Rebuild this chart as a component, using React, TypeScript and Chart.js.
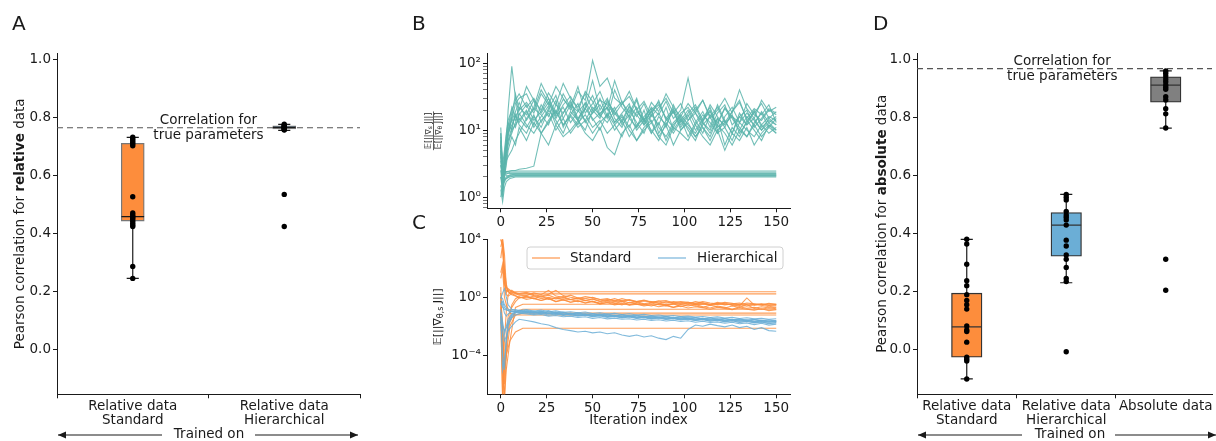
import React, { useEffect, useRef } from 'react';
import { Chart, registerables } from 'chart.js';

Chart.register(...registerables);

const W = 1216;
const H = 441;
const FONT = "'DejaVu Sans', sans-serif";
const INK = '#1a1a1a';
const ORANGE = '#fd8d3c';
const BLUE = '#6baed6';
const GREY = '#808080';
const TEAL = 'rgba(90,180,172,0.85)';
const ORANGE_LINE = 'rgba(253,141,60,0.85)';
const BLUE_LINE = 'rgba(107,174,214,0.85)';
const LABEL_FONT = '13.5px ' + FONT;

// ---------------- Panel A (relative data) ----------------
const A_CATEGORIES = [['Relative data', 'Standard'], ['Relative data', 'Hierarchical']];
const A_Q1 = [0.444, 0.762];
const A_MEDIAN = [0.459, 0.767];
const A_Q3 = [0.712, 0.773];
const A_WHISKER_LOW = [0.246, 0.757];
const A_WHISKER_HIGH = [0.733, 0.778];
const A_POINTS_STANDARD = [0.733, 0.728, 0.722, 0.716, 0.71, 0.704, 0.528, 0.472, 0.466, 0.46, 0.455, 0.45, 0.443, 0.436, 0.43, 0.425, 0.287, 0.246];
const A_POINTS_HIERARCHICAL = [0.778, 0.775, 0.772, 0.77, 0.768, 0.766, 0.764, 0.762, 0.76, 0.758, 0.536, 0.425];
const A_TRUE_CORRELATION = 0.766;

// ---------------- Panel D (absolute data) ----------------
const D_CATEGORIES = [['Relative data', 'Standard'], ['Relative data', 'Hierarchical'], ['Absolute data']];
const D_Q1 = [-0.026, 0.323, 0.854];
const D_MEDIAN = [0.079, 0.43, 0.913];
const D_Q3 = [0.195, 0.473, 0.942];
const D_WHISKER_LOW = [-0.101, 0.231, 0.765];
const D_WHISKER_HIGH = [0.381, 0.536, 0.962];
const D_POINTS_STANDARD = [0.381, 0.365, 0.295, 0.238, 0.221, 0.19, 0.17, 0.155, 0.14, 0.082, 0.068, 0.063, 0.026, -0.026, -0.033, -0.039, -0.101];
const D_POINTS_HIERARCHICAL = [0.536, 0.526, 0.517, 0.477, 0.465, 0.457, 0.448, 0.43, 0.378, 0.358, 0.327, 0.312, 0.284, 0.246, 0.235, -0.007];
const D_POINTS_ABSOLUTE = [0.962, 0.954, 0.945, 0.934, 0.925, 0.914, 0.906, 0.899, 0.873, 0.862, 0.832, 0.814, 0.765, 0.312, 0.205];
const D_TRUE_CORRELATION = 0.97;

const BOX_Y_TICKS = [0, 0.2, 0.4, 0.6, 0.8, 1.0];

// ---------------- Panels B and C (iterations) ----------------
const ITER = [0, 1, 2, 3, 4, 6, 8, 10,
  14, 18, 22, 26, 30, 34, 38, 42, 46, 50, 54, 58,
  62, 66, 70, 74, 78, 82, 86, 90, 94, 98,
  102, 106, 110, 114, 118, 122, 126, 130, 134, 138,
  142, 146, 150];
const ITER_FLAT = [0, 1, 2, 3, 5, 8, 12, 150];
const X_TICKS = [0, 25, 50, 75, 100, 125, 150];

// B: ratio of gradient norms
const B_RUN_01 = [11, 2.5, 4, 7, 10, 18, 14, 22,
  17, 28, 13, 21, 33, 15, 24, 19, 38, 27, 16, 22,
  13, 18, 25, 11, 16, 21, 9, 14, 19, 12,
  17, 10, 15, 22, 11, 14, 9, 18, 12, 15,
  10, 13, 16];
const B_RUN_02 = [7, 1.5, 2.5, 6, 20, 90, 30, 14,
  20, 12, 24, 16, 28, 11, 19, 14, 22, 55, 20, 30,
  15, 11, 20, 13, 9, 17, 12, 22, 10, 15,
  8, 13, 19, 11, 24, 14, 9, 16, 12, 20,
  11, 14, 12];
const B_RUN_03 = [3, 2.2, 2.3, 2.4, 2.4, 2.5, 2.5, 2.6,
  2.7, 2.9, 9, 14, 20, 12, 17, 25, 13, 18, 30, 16,
  22, 12, 17, 10, 14, 19, 11, 8, 13, 17,
  12, 9, 14, 20, 10, 13, 16, 11, 8, 13,
  18, 11, 15];
const B_RUN_04 = [5, 2, 3, 3.5, 4, 5, 7, 9,
  15, 22, 50, 30, 18, 35, 22, 14, 26, 18, 24, 15,
  40, 22, 16, 28, 13, 19, 24, 15, 11, 18,
  22, 14, 9, 17, 13, 21, 15, 10, 16, 12,
  19, 13, 10];
const B_RUN_05 = [2, 1.2, 4, 6, 9, 12, 16, 20,
  26, 18, 35, 24, 45, 30, 20, 38, 28, 110, 45, 60,
  30, 24, 38, 20, 27, 16, 22, 30, 18, 25,
  14, 20, 28, 16, 22, 13, 19, 26, 15, 21,
  17, 24, 13];
const B_RUN_06 = [4, 1.8, 2.5, 4, 7, 11, 17, 12,
  9, 16, 11, 20, 14, 9, 17, 12, 21, 15, 10, 18,
  12, 8, 15, 11, 20, 9, 13, 7, 12, 16,
  10, 7, 13, 9, 15, 6, 11, 8, 14, 10,
  7, 12, 9];
const B_RUN_07 = [6, 1, 2, 3, 5, 8, 6, 11,
  7, 13, 9, 6, 12, 8, 10, 14, 9, 7, 11, 5.5,
  4.3, 9, 12, 7, 10, 13, 8, 6, 11, 9,
  7, 12, 8, 6, 10, 5, 9, 7, 11, 6,
  9, 12, 10];
const B_RUN_08 = [9, 2, 3, 6, 10, 14, 25, 30,
  35, 20, 40, 26, 17, 29, 22, 45, 18, 25, 38, 20,
  55, 26, 18, 30, 14, 22, 17, 27, 15, 20,
  60, 18, 13, 24, 16, 11, 19, 28, 14, 18,
  25, 15, 19];
const B_RUN_09 = [3, 1.6, 3, 5, 9, 15, 11, 17,
  24, 14, 19, 30, 16, 22, 13, 19, 25, 14, 18, 22,
  13, 17, 11, 19, 14, 9, 16, 12, 20, 10,
  14, 18, 11, 8, 15, 12, 17, 9, 13, 19,
  12, 16, 14];
const B_RUN_10 = [8, 2.2, 4, 8, 13, 10, 19, 26,
  14, 21, 17, 12, 24, 18, 28, 15, 21, 33, 17, 13,
  20, 27, 15, 22, 12, 17, 28, 14, 19, 11,
  16, 22, 13, 10, 18, 24, 12, 16, 20, 11,
  15, 21, 18];
const B_RUN_11 = [5, 1.4, 3.5, 6, 11, 22, 16, 13,
  19, 11, 16, 23, 12, 18, 26, 14, 10, 20, 15, 28,
  18, 13, 22, 16, 25, 13, 18, 11, 24, 14,
  20, 12, 17, 13, 9, 16, 22, 13, 18, 14,
  10, 15, 12];
const B_RUN_12 = [2.5, 1.2, 2.6, 4.5, 7, 9, 13, 18,
  12, 9, 14, 18, 10, 15, 9, 13, 17, 11, 14, 9,
  12, 16, 10, 7, 11, 14, 8, 12, 6, 10,
  13, 8, 11, 7, 12, 9, 6, 10, 8, 12,
  8, 11, 9];
const B_RUN_13 = [9, 3, 5, 9, 14, 20, 28, 35,
  22, 30, 18, 26, 15, 24, 32, 20, 14, 22, 17, 26,
  19, 14, 23, 17, 12, 20, 26, 15, 21, 13,
  18, 24, 14, 19, 12, 22, 16, 13, 25, 17,
  14, 20, 17];
const B_RUN_14 = [1.5, 1.1, 2, 3.5, 6, 10, 12, 15,
  11, 17, 9, 13, 19, 12, 16, 11, 14, 9, 13, 17,
  10, 14, 8, 12, 15, 10, 7, 13, 9, 14,
  11, 8, 12, 16, 9, 11, 7, 13, 10, 8,
  12, 9, 11];
const B_RUN_15 = [6, 2, 3, 5, 8, 16, 35, 20,
  45, 28, 20, 36, 24, 50, 30, 22, 35, 20, 28, 24,
  17, 25, 32, 20, 14, 26, 19, 35, 22, 16,
  25, 18, 28, 15, 20, 30, 18, 40, 21, 15,
  28, 19, 22];
const B_FLAT_01 = [4.5, 2.6, 2.2, 2.1, 2.05, 2.05, 2.05, 2.05];
const B_FLAT_02 = [1.0, 1.5, 1.7, 1.9, 2.0, 2.1, 2.1, 2.1];
const B_FLAT_03 = [2.5, 2.4, 2.4, 2.4, 2.45, 2.45, 2.45, 2.45];
const B_FLAT_04 = [6.5, 3, 2.4, 2.3, 2.25, 2.25, 2.25, 2.25];
const B_FLAT_05 = [1.3, 0.85, 1.4, 1.7, 1.9, 2.0, 2.0, 2.0];
const B_FLAT_06 = [3.5, 2, 1.8, 1.9, 2.1, 2.15, 2.15, 2.15];
const B_FLAT_07 = [2.0, 1.6, 1.8, 2.0, 2.15, 2.2, 2.2, 2.2];
const B_FLAT_08 = [7, 2.8, 2.3, 2.2, 2.35, 2.35, 2.35, 2.35];
const B_RUNS = [B_RUN_01, B_RUN_02, B_RUN_03, B_RUN_04, B_RUN_05, B_RUN_06, B_RUN_07, B_RUN_08, B_RUN_09, B_RUN_10, B_RUN_11, B_RUN_12, B_RUN_13, B_RUN_14, B_RUN_15];
const B_FLATS = [B_FLAT_01, B_FLAT_02, B_FLAT_03, B_FLAT_04, B_FLAT_05, B_FLAT_06, B_FLAT_07, B_FLAT_08];
const B_Y_MAJOR = [1, 10, 100];
const B_Y_LABELS = ['10⁰', '10¹', '10²'];
const B_Y_MINOR = [0.7, 0.8, 0.9, 2, 3, 4, 5, 6, 7, 8, 9, 20, 30, 40, 50, 60, 70, 80, 90];

// C: gradient norm, Standard (orange) and Hierarchical (blue)
const C_STD_RUN_01 = [1e4, 3e3, 50, 5, 3, 2.5, 2, 1.6,
  1.8, 1.3, 1.0, 1.4, 0.9, 1.1, 0.7, 0.9, 0.6, 0.75, 0.5, 0.6,
  0.5, 0.6, 0.4, 0.5, 0.35, 0.45, 0.4, 0.3, 0.38, 0.33,
  0.42, 0.3, 0.35, 0.28, 0.32, 0.4, 0.27, 0.3, 0.24, 0.33,
  0.28, 0.22, 0.26];
const C_STD_RUN_02 = [0.05, 1e-7, 1e-3, 0.1, 1.5, 3, 2, 1.8,
  2.2, 1.5, 1.2, 1.6, 3, 1.3, 1.0, 0.8, 1.1, 0.9, 0.7, 0.6,
  0.8, 0.55, 0.7, 0.5, 0.6, 0.45, 0.55, 0.4, 0.5, 0.45,
  0.35, 0.5, 0.4, 0.3, 0.45, 0.35, 0.3, 0.25, 0.9, 0.3,
  0.35, 0.28, 0.3];
const C_STD_RUN_03 = [3e4, 1e4, 1e2, 8, 2.5, 1.5, 1.2, 0.9,
  1.1, 0.8, 1.2, 0.7, 0.9, 0.65, 0.7, 0.5, 0.6, 0.5, 0.4, 0.55,
  0.4, 0.3, 0.45, 0.35, 0.28, 0.4, 0.3, 0.25, 0.35, 0.22,
  0.3, 0.25, 0.2, 0.28, 0.22, 0.18, 0.25, 0.2, 0.3, 0.17,
  0.22, 0.18, 0.2];
const C_STD_RUN_04 = [2, 1e-5, 1e-7, 1e-4, 0.01, 0.3, 0.8, 1.1,
  0.7, 0.9, 0.6, 0.8, 0.5, 0.7, 0.45, 0.6, 0.4, 0.55, 0.35, 0.45,
  0.38, 0.5, 0.3, 0.42, 0.32, 0.25, 0.35, 0.28, 0.2, 0.3,
  0.25, 0.32, 0.22, 0.18, 0.25, 0.2, 0.15, 0.22, 0.17, 0.2,
  0.15, 0.19, 0.16];
const C_STD_RUN_05 = [500, 5e3, 20, 2, 4, 2.5, 1.8, 1.4,
  1.3, 2.0, 1.5, 3.0, 1.2, 1.0, 1.4, 0.9, 0.8, 1.0, 0.7, 0.8,
  0.55, 0.8, 0.6, 0.5, 0.65, 0.45, 0.55, 0.6, 0.4, 0.5,
  0.45, 0.38, 0.5, 0.4, 0.35, 0.45, 0.38, 0.3, 0.4, 0.35,
  0.3, 0.38, 0.33];
const C_STD_RUN_06 = [0.2, 0.01, 1e-5, 1e-3, 0.05, 0.2, 0.5, 0.9,
  1.2, 0.8, 0.6, 0.9, 0.5, 0.65, 0.45, 0.55, 0.4, 0.5, 0.35, 0.42,
  0.3, 0.38, 0.28, 0.33, 0.25, 0.3, 0.22, 0.27, 0.2, 0.25,
  0.18, 0.22, 0.19, 0.15, 0.2, 0.17, 0.14, 0.18, 0.15, 0.13,
  0.16, 0.12, 0.14];
const C_STD_RUN_07 = [50, 200, 8, 1.5, 1.2, 1.8, 1.3, 1.0,
  0.9, 1.2, 0.8, 1.0, 0.75, 0.9, 0.7, 0.8, 0.6, 0.75, 0.55, 0.7,
  0.6, 0.5, 0.65, 0.45, 0.55, 0.5, 0.4, 0.5, 0.42, 0.38,
  0.45, 0.35, 0.4, 0.33, 0.38, 0.3, 0.35, 0.4, 0.3, 0.28,
  0.33, 0.27, 0.3];
const C_STD_FLAT_01 = [1e4, 5e3, 10, 3, 2, 2.4, 2.4, 2.4];
const C_STD_FLAT_02 = [3e3, 1e4, 1e3, 5, 1.8, 1.7, 1.7, 1.7];
const C_STD_FLAT_03 = [0.5, 1e-4, 1e-7, 1e-5, 1e-3, 0.2, 0.33, 0.33];
const C_STD_FLAT_04 = [0.1, 1e-7, 1e-5, 1e-4, 0.01, 0.06, 0.08, 0.08];
const C_STD_FLAT_05 = [1, 0.01, 1e-5, 1e-4, 1e-3, 0.004, 0.0073, 0.0073];
const C_STD_FLAT_06 = [5, 1e-3, 1e-6, 1e-3, 0.02, 0.1, 0.15, 0.15];
const C_STD_FLAT_07 = [20, 1e2, 1, 0.3, 0.08, 0.06, 0.06, 0.06];

const C_HIER_RUN_01 = [0.3, 0.5, 0.2, 0.15, 0.12, 0.1, 0.09, 0.1,
  0.08, 0.09, 0.07, 0.08, 0.065, 0.07, 0.06, 0.055, 0.06, 0.05, 0.055, 0.045,
  0.05, 0.04, 0.045, 0.038, 0.042, 0.035, 0.04, 0.033, 0.036, 0.03,
  0.034, 0.028, 0.031, 0.026, 0.029, 0.024, 0.027, 0.022, 0.025, 0.02,
  0.023, 0.019, 0.021];
const C_HIER_RUN_02 = [0.05, 1e-4, 1e-5, 1e-3, 0.01, 0.05, 0.08, 0.12,
  0.1, 0.08, 0.11, 0.07, 0.09, 0.06, 0.075, 0.055, 0.065, 0.05, 0.06, 0.045,
  0.055, 0.04, 0.05, 0.037, 0.045, 0.033, 0.04, 0.03, 0.036, 0.028,
  0.032, 0.025, 0.03, 0.022, 0.027, 0.02, 0.024, 0.018, 0.022, 0.017,
  0.02, 0.015, 0.018];
const C_HIER_RUN_03 = [0.8, 2, 4, 1, 0.3, 0.15, 0.12, 0.1,
  0.13, 0.09, 0.1, 0.12, 0.08, 0.095, 0.07, 0.085, 0.065, 0.075, 0.06, 0.07,
  0.055, 0.065, 0.05, 0.06, 0.045, 0.052, 0.042, 0.048, 0.038, 0.045,
  0.036, 0.04, 0.033, 0.038, 0.03, 0.034, 0.028, 0.032, 0.026, 0.03,
  0.025, 0.028, 0.024];
const C_HIER_RUN_04 = [0.1, 0.02, 0.003, 0.01, 0.03, 0.07, 0.09, 0.08,
  0.07, 0.06, 0.065, 0.05, 0.055, 0.045, 0.05, 0.04, 0.045, 0.035, 0.04, 0.032,
  0.036, 0.03, 0.033, 0.027, 0.03, 0.025, 0.028, 0.023, 0.026, 0.021,
  0.024, 0.019, 0.022, 0.018, 0.02, 0.016, 0.019, 0.015, 0.017, 0.013,
  0.016, 0.012, 0.014];
const C_HIER_RUN_05 = [0.02, 0.005, 1e-3, 0.002, 0.005, 0.01, 0.02, 0.03,
  0.025, 0.02, 0.015, 0.012, 0.008, 0.006, 0.005, 0.004, 0.0045, 0.0035, 0.004, 0.003,
  0.0035, 0.0025, 0.002, 0.0025, 0.0018, 0.0022, 0.0015, 0.0012, 0.002, 0.0015,
  0.006, 0.012, 0.01, 0.014, 0.011, 0.009, 0.012, 0.008, 0.01, 0.006,
  0.008, 0.005, 0.0045];
const C_HIER_RUN_06 = [0.6, 0.3, 0.08, 0.05, 0.07, 0.11, 0.1, 0.13,
  0.09, 0.11, 0.08, 0.1, 0.075, 0.085, 0.07, 0.08, 0.06, 0.07, 0.055, 0.065,
  0.05, 0.06, 0.045, 0.055, 0.042, 0.05, 0.04, 0.046, 0.036, 0.043,
  0.034, 0.04, 0.031, 0.037, 0.029, 0.034, 0.027, 0.031, 0.025, 0.029,
  0.023, 0.027, 0.022];
const C_HIER_RUN_07 = [0.15, 1e-5, 5e-5, 1e-3, 0.02, 0.06, 0.1, 0.09,
  0.11, 0.085, 0.1, 0.08, 0.09, 0.07, 0.08, 0.065, 0.075, 0.06, 0.068, 0.052,
  0.06, 0.048, 0.055, 0.044, 0.05, 0.04, 0.045, 0.037, 0.042, 0.034,
  0.038, 0.031, 0.035, 0.029, 0.033, 0.027, 0.03, 0.025, 0.028, 0.023,
  0.026, 0.021, 0.024];
const C_HIER_RUN_08 = [0.4, 0.2, 0.15, 0.13, 0.12, 0.1, 0.11, 0.09,
  0.1, 0.08, 0.09, 0.075, 0.08, 0.065, 0.07, 0.06, 0.065, 0.055, 0.06, 0.05,
  0.055, 0.045, 0.05, 0.042, 0.046, 0.038, 0.042, 0.035, 0.038, 0.032,
  0.035, 0.03, 0.032, 0.027, 0.03, 0.025, 0.028, 0.023, 0.026, 0.021,
  0.024, 0.02, 0.022];
const C_HIER_RUN_09 = [0.08, 0.01, 0.005, 0.008, 0.015, 0.04, 0.06, 0.07,
  0.09, 0.065, 0.08, 0.06, 0.07, 0.055, 0.065, 0.05, 0.058, 0.045, 0.052, 0.04,
  0.047, 0.037, 0.043, 0.034, 0.039, 0.031, 0.036, 0.029, 0.033, 0.027,
  0.03, 0.025, 0.028, 0.023, 0.026, 0.021, 0.024, 0.019, 0.022, 0.018,
  0.02, 0.016, 0.017];
const C_HIER_RUN_10 = [1, 0.8, 0.3, 0.2, 0.15, 0.13, 0.14, 0.12,
  0.14, 0.11, 0.13, 0.1, 0.115, 0.09, 0.1, 0.085, 0.095, 0.075, 0.085, 0.07,
  0.078, 0.065, 0.072, 0.06, 0.066, 0.055, 0.06, 0.05, 0.055, 0.046,
  0.05, 0.043, 0.047, 0.04, 0.044, 0.037, 0.041, 0.034, 0.038, 0.032,
  0.035, 0.03, 0.033];
const C_STD_RUNS = [C_STD_RUN_01, C_STD_RUN_02, C_STD_RUN_03, C_STD_RUN_04, C_STD_RUN_05, C_STD_RUN_06, C_STD_RUN_07];
const C_STD_FLATS = [C_STD_FLAT_01, C_STD_FLAT_02, C_STD_FLAT_03, C_STD_FLAT_04, C_STD_FLAT_05, C_STD_FLAT_06, C_STD_FLAT_07];
const C_HIER_RUNS = [C_HIER_RUN_01, C_HIER_RUN_02, C_HIER_RUN_03, C_HIER_RUN_04, C_HIER_RUN_05, C_HIER_RUN_06, C_HIER_RUN_07, C_HIER_RUN_08, C_HIER_RUN_09, C_HIER_RUN_10];
const C_Y_MAJOR = [1e-4, 1, 1e4];
const C_Y_LABELS = ['10⁻⁴', '10⁰', '10⁴'];
const LEGEND_LABELS = ['Standard', 'Hierarchical'];

// ---------------- helpers ----------------
type Seg = { text: string; font: string; dy?: number };

function segWidth(ctx: CanvasRenderingContext2D, segs: Seg[]) {
  let w = 0;
  for (const s of segs) { ctx.font = s.font; w += ctx.measureText(s.text).width; }
  return w;
}

function drawRich(ctx: CanvasRenderingContext2D, segs: Seg[], cx: number, cy: number, rotate: boolean, offV = 0) {
  ctx.save();
  ctx.translate(cx, cy);
  if (rotate) ctx.rotate(-Math.PI / 2);
  const w = segWidth(ctx, segs);
  let x = -w / 2;
  ctx.textBaseline = 'middle';
  ctx.textAlign = 'left';
  ctx.fillStyle = INK;
  for (const s of segs) {
    ctx.font = s.font;
    ctx.fillText(s.text, x, offV + (s.dy || 0));
    x += ctx.measureText(s.text).width;
  }
  ctx.restore();
  return w;
}

function text(ctx: CanvasRenderingContext2D, t: string, x: number, y: number, font: string, align: CanvasTextAlign = 'center', baseline: CanvasTextBaseline = 'middle') {
  ctx.save();
  ctx.font = font;
  ctx.fillStyle = INK;
  ctx.textAlign = align;
  ctx.textBaseline = baseline;
  ctx.fillText(t, x, y);
  ctx.restore();
}

function arrow(ctx: CanvasRenderingContext2D, from: number, to: number, y: number) {
  ctx.save();
  ctx.strokeStyle = INK;
  ctx.fillStyle = INK;
  ctx.lineWidth = 1.2;
  ctx.beginPath(); ctx.moveTo(from, y); ctx.lineTo(to, y); ctx.stroke();
  const d = Math.sign(to - from);
  ctx.beginPath();
  ctx.moveTo(to, y);
  ctx.lineTo(to - d * 8, y - 3.5);
  ctx.lineTo(to - d * 8, y + 3.5);
  ctx.closePath();
  ctx.fill();
  ctx.restore();
}

const axisGrid = { display: true, drawOnChartArea: false, drawTicks: true, tickLength: 4, color: INK, lineWidth: 1 };
const axisBorder = { display: true, color: INK, width: 1 };

type BoxParams = {
  categories: string[][]; q1: number[]; med: number[]; q3: number[]; lo: number[]; hi: number[];
  points: number[][]; colors: string[]; edge: string; medianColor: string;
  halfBox: number; capHalf: number; barPx: number; xMax: number; trueCorr: number; textX: number;
  padLeft: number; padRight: number; yWidth: number;
  letter: string; letterX: number; titleX: number; boldWord: string;
  arrows: number[]; trainedX: number;
};

function boxConfig(p: BoxParams): any {
  const datasets: any[] = [];
  p.points.forEach((vals, i) => {
    datasets.push({
      type: 'scatter', data: vals.map((v) => ({ x: i, y: v })), pointRadius: 2.7,
      pointBackgroundColor: '#000', pointBorderWidth: 0, showLine: false, order: 0,
    });
  });
  const med: any[] = [];
  p.med.forEach((m, i) => { med.push({ x: i - p.halfBox, y: m }, { x: i + p.halfBox, y: m }, { x: i, y: null }); });
  datasets.push({ type: 'line', data: med, borderColor: p.medianColor, borderWidth: 1.3, pointRadius: 0, spanGaps: false, showLine: true, order: 1 });
  datasets.push({
    type: 'bar', data: p.q1.map((v, i) => ({ x: i, y: [v, p.q3[i]] })), backgroundColor: p.colors,
    borderColor: p.edge, borderWidth: 1.3, borderSkipped: false, barThickness: p.barPx, grouped: false, order: 2,
  });
  const wh: any[] = [];
  p.q1.forEach((_, i) => {
    const c = p.capHalf;
    wh.push(
      { x: i, y: p.q3[i] }, { x: i, y: p.hi[i] }, { x: i, y: null },
      { x: i, y: p.lo[i] }, { x: i, y: p.q1[i] }, { x: i, y: null },
      { x: i - c, y: p.hi[i] }, { x: i + c, y: p.hi[i] }, { x: i, y: null },
      { x: i - c, y: p.lo[i] }, { x: i + c, y: p.lo[i] }, { x: i, y: null },
    );
  });
  datasets.push({ type: 'line', data: wh, borderColor: INK, borderWidth: 1.2, pointRadius: 0, spanGaps: false, showLine: true, order: 3 });
  datasets.push({
    type: 'line', data: [{ x: -0.5, y: p.trueCorr }, { x: p.xMax, y: p.trueCorr }], borderColor: '#555',
    borderDash: [6, 4], borderWidth: 1.1, pointRadius: 0, showLine: true, order: 4,
  });

  const overlay = {
    id: 'overlay' + p.letter,
    afterDraw(chart: any) {
      const ctx = chart.ctx as CanvasRenderingContext2D;
      const xs = chart.scales.x; const ys = chart.scales.y;
      text(ctx, p.letter, p.letterX, 30, '20px ' + FONT, 'left', 'alphabetic');
      drawRich(ctx, [
        { text: 'Pearson correlation for ', font: LABEL_FONT },
        { text: p.boldWord, font: 'bold ' + LABEL_FONT },
        { text: ' data', font: LABEL_FONT },
      ], p.titleX, (chart.chartArea.top + chart.chartArea.bottom) / 2, true);
      const tx = xs.getPixelForValue(p.textX);
      const ty = ys.getPixelForValue(p.trueCorr);
      text(ctx, 'Correlation for', tx, ty - 7.5, LABEL_FONT);
      text(ctx, 'true parameters', tx, ty + 7.5, LABEL_FONT);
      text(ctx, 'Trained on', p.trainedX, 434, LABEL_FONT);
      arrow(ctx, p.arrows[1], p.arrows[0], 435);
      arrow(ctx, p.arrows[2], p.arrows[3], 435);
    },
  };

  return {
    type: 'scatter',
    data: { datasets },
    plugins: [overlay],
    options: {
      responsive: false, animation: false, events: [],
      layout: { padding: { left: p.padLeft, right: p.padRight, top: 53.3, bottom: 0 } },
      plugins: { legend: { display: false }, tooltip: { enabled: false } },
      scales: {
        x: {
          type: 'linear', min: -0.5, max: p.xMax, offset: false, grid: axisGrid, border: axisBorder,
          ticks: {
            color: INK, font: { family: FONT, size: 13.5, lineHeight: 1.07 }, autoSkip: false, maxRotation: 0, minRotation: 0, padding: 1,
            callback: (v: number) => p.categories[v] ?? '',
          },
          afterBuildTicks: (s: any) => { s.ticks = p.categories.map((_, i) => ({ value: i })); },
          afterFit: (s: any) => { s.height = 46.7; },
        },
        y: {
          type: 'linear', min: -0.154, max: 1.023, grid: axisGrid, border: axisBorder,
          ticks: { color: INK, font: { family: FONT, size: 13.5 }, autoSkip: false, padding: 2, callback: (v: number) => v.toFixed(1) },
          afterBuildTicks: (s: any) => { s.ticks = BOX_Y_TICKS.map((v) => ({ value: v })); },
          afterFit: (s: any) => { s.width = p.yWidth; },
        },
      },
    },
  };
}

function runDatasets(runs: number[][], iters: number[], color: string) {
  return runs.map((r) => ({
    type: 'line', data: r.map((v, i) => ({ x: iters[i], y: v })), borderColor: color, borderWidth: 1.1,
    pointRadius: 0, tension: 0, showLine: true,
  }));
}

function isIn(v: number, list: number[]) {
  return list.findIndex((m) => Math.abs(Math.log10(m) - Math.log10(v)) < 1e-6);
}

function lineConfig(datasets: any[], yMin: number, yMax: number, majors: number[], labels: string[], minors: number[],
  top: number, bottom: number, overlay: any): any {
  const all = [...majors, ...minors];
  return {
    type: 'scatter',
    data: { datasets },
    plugins: [overlay],
    options: {
      responsive: false, animation: false, events: [],
      layout: { padding: { left: 447, right: 426, top, bottom } },
      plugins: { legend: { display: false }, tooltip: { enabled: false } },
      scales: {
        x: {
          type: 'linear', min: -7.5, max: 157.5, grid: axisGrid, border: axisBorder,
          ticks: { color: INK, font: { family: FONT, size: 13.5 }, autoSkip: false, maxRotation: 0, padding: 2 },
          afterBuildTicks: (s: any) => { s.ticks = X_TICKS.map((v) => ({ value: v })); },
          afterFit: (s: any) => { s.height = 22; },
        },
        y: {
          type: 'logarithmic', min: yMin, max: yMax,
          grid: { ...axisGrid, tickWidth: (c: any) => (c.tick && isIn(c.tick.value, majors) >= 0 ? 1 : 0.6) },
          border: axisBorder,
          ticks: {
            color: INK, font: { family: FONT, size: 13.5 }, autoSkip: false, padding: 2,
            callback: (v: number) => { const k = isIn(v, majors); return k >= 0 ? labels[k] : ''; },
          },
          afterBuildTicks: (s: any) => { s.ticks = all.map((v) => ({ value: v })); },
          afterFit: (s: any) => { s.width = 40; },
        },
      },
    },
  };
}

function makeA() {
  return boxConfig({
    categories: A_CATEGORIES, q1: A_Q1, med: A_MEDIAN, q3: A_Q3, lo: A_WHISKER_LOW, hi: A_WHISKER_HIGH,
    points: [A_POINTS_STANDARD, A_POINTS_HIERARCHICAL], colors: [ORANGE, BLUE], edge: '#777', medianColor: INK,
    halfBox: 0.075, capHalf: 0.04, barPx: 23, xMax: 1.5, trueCorr: A_TRUE_CORRELATION, textX: 0.5,
    padLeft: 0, padRight: 856, yWidth: 57,
    letter: 'A', letterX: 12, titleX: 20, boldWord: 'relative', arrows: [58, 162, 255, 358], trainedX: 209,
  });
}

function makeD() {
  return boxConfig({
    categories: D_CATEGORIES, q1: D_Q1, med: D_MEDIAN, q3: D_Q3, lo: D_WHISKER_LOW, hi: D_WHISKER_HIGH,
    points: [D_POINTS_STANDARD, D_POINTS_HIERARCHICAL, D_POINTS_ABSOLUTE], colors: [ORANGE, BLUE, GREY], edge: '#333', medianColor: '#333',
    halfBox: 0.15, capHalf: 0.061, barPx: 30.5, xMax: 2.465, trueCorr: D_TRUE_CORRELATION, textX: 0.96,
    padLeft: 877, padRight: 0, yWidth: 40,
    letter: 'D', letterX: 873, titleX: 882, boldWord: 'absolute', arrows: [918, 1022, 1115, 1216], trainedX: 1070,
  });
}

function makeB() {
  const datasets = [...runDatasets(B_RUNS, ITER, TEAL), ...runDatasets(B_FLATS, ITER_FLAT, TEAL)];
  const overlay = {
    id: 'overlayB',
    afterDraw(chart: any) {
      const ctx = chart.ctx as CanvasRenderingContext2D;
      text(ctx, 'B', 412, 30, '20px ' + FONT, 'left', 'alphabetic');
      const cy = (chart.chartArea.top + chart.chartArea.bottom) / 2;
      const cx = 433.5;
      const f = '8px ' + FONT; const fs = '6px ' + FONT;
      const num: Seg[] = [{ text: '𝔼[||∇', font: f }, { text: 's', font: fs, dy: 1.5 }, { text: ' J||]', font: f }];
      const den: Seg[] = [{ text: '𝔼[||∇', font: f }, { text: 'θ', font: fs, dy: 1.5 }, { text: ' J||]', font: f }];
      const w1 = drawRich(ctx, num, cx, cy, true, -5);
      const w2 = drawRich(ctx, den, cx, cy, true, 5.5);
      const w = Math.max(w1, w2) + 2;
      ctx.save();
      ctx.strokeStyle = INK; ctx.lineWidth = 0.7;
      ctx.beginPath(); ctx.moveTo(cx, cy - w / 2); ctx.lineTo(cx, cy + w / 2); ctx.stroke();
      ctx.restore();
    },
  };
  return lineConfig(datasets, 0.68, 141, B_Y_MAJOR, B_Y_LABELS, B_Y_MINOR, 53.3, 210.7, overlay);
}

function makeC() {
  const datasets = [
    ...runDatasets(C_HIER_RUNS, ITER, BLUE_LINE),
    ...runDatasets(C_STD_RUNS, ITER, ORANGE_LINE),
    ...runDatasets(C_STD_FLATS, ITER_FLAT, ORANGE_LINE),
  ];
  const overlay = {
    id: 'overlayC',
    afterDraw(chart: any) {
      const ctx = chart.ctx as CanvasRenderingContext2D;
      text(ctx, 'C', 412, 229, '20px ' + FONT, 'left', 'alphabetic');
      const cy = (chart.chartArea.top + chart.chartArea.bottom) / 2;
      drawRich(ctx, [
        { text: '𝔼[||∇', font: '11px ' + FONT },
        { text: 'θ,s', font: '8px ' + FONT, dy: 2.5 },
        { text: ' J||]', font: '11px ' + FONT },
      ], 438, cy, true);
      text(ctx, 'Iteration index', (chart.chartArea.left + chart.chartArea.right) / 2, 420, LABEL_FONT);
      // legend
      ctx.save();
      const lx = 527, ly = 247, lw = 256, lh = 22, r = 3;
      ctx.beginPath();
      ctx.moveTo(lx + r, ly); ctx.lineTo(lx + lw - r, ly); ctx.arcTo(lx + lw, ly, lx + lw, ly + r, r);
      ctx.lineTo(lx + lw, ly + lh - r); ctx.arcTo(lx + lw, ly + lh, lx + lw - r, ly + lh, r);
      ctx.lineTo(lx + r, ly + lh); ctx.arcTo(lx, ly + lh, lx, ly + lh - r, r);
      ctx.lineTo(lx, ly + r); ctx.arcTo(lx, ly, lx + r, ly, r); ctx.closePath();
      ctx.fillStyle = 'rgba(255,255,255,0.8)'; ctx.fill();
      ctx.strokeStyle = '#d0d0d0'; ctx.lineWidth = 1; ctx.stroke();
      const my = ly + lh / 2;
      ctx.lineWidth = 1.3;
      ctx.strokeStyle = ORANGE_LINE;
      ctx.beginPath(); ctx.moveTo(532, my); ctx.lineTo(560, my); ctx.stroke();
      ctx.strokeStyle = BLUE_LINE;
      ctx.beginPath(); ctx.moveTo(658, my); ctx.lineTo(686, my); ctx.stroke();
      ctx.restore();
      text(ctx, LEGEND_LABELS[0], 570, my, LABEL_FONT, 'left');
      text(ctx, LEGEND_LABELS[1], 697, my, LABEL_FONT, 'left');
    },
  };
  return lineConfig(datasets, 2e-7, 1e4, C_Y_MAJOR, C_Y_LABELS, [], 239.3, 24.7, overlay);
}

function ChartCanvas({ make }: { make: () => any }) {
  const ref = useRef<HTMLCanvasElement | null>(null);
  useEffect(() => {
    const chart = new Chart(ref.current as HTMLCanvasElement, make());
    return () => chart.destroy();
  }, [make]);
  return <canvas ref={ref} width={W} height={H} style={{ position: 'absolute', left: 0, top: 0, width: W, height: H }} />;
}

export default function App() {
  return (
    <div style={{ position: 'fixed', left: 0, top: 0, width: W, height: H, background: '#fff', overflow: 'hidden' }}>
      <ChartCanvas make={makeA} />
      <ChartCanvas make={makeB} />
      <ChartCanvas make={makeC} />
      <ChartCanvas make={makeD} />
    </div>
  );
}
